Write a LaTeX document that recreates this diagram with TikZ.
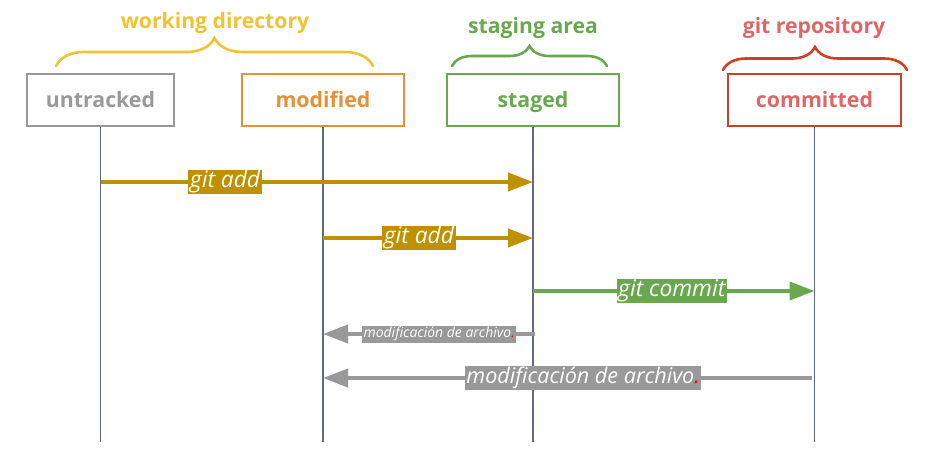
\documentclass[tikz,border=0pt]{standalone}
\usepackage{fontspec}
\setmainfont{Open Sans}
\usetikzlibrary{arrows.meta,decorations.pathreplacing}
\definecolor{wdyellow}{HTML}{F1C232}
\definecolor{trackgray}{HTML}{999999}
\definecolor{modorange}{HTML}{E69138}
\definecolor{stgreen}{HTML}{6AA84F}
\definecolor{repored}{HTML}{CC4125}
\definecolor{reposalmon}{HTML}{E06666}
\definecolor{addgold}{HTML}{BF9000}
\definecolor{lifeblue}{HTML}{5F6B80}
\begin{document}
\begin{tikzpicture}[x=1pt, y=-1pt,
                    line width=1pt,
                    >={Triangle[length=25pt,width=18pt]},
                    ]
    \tikzstyle{state}=[draw, line width=1.2pt, minimum height=52pt, inner sep=2pt, text height=16pt, text depth=2pt, font=\fontsize{21.3}{24}\selectfont\bfseries];
    \tikzstyle{area}=[anchor=base, font=\fontsize{21.2}{24}\selectfont\bfseries];
    \tikzstyle{areabrace}=[decorate, line width=2.6pt, line cap=round];
    \tikzstyle{lifeline}=[draw=lifeblue, line width=1.4pt];
    \tikzstyle{move}=[draw, line width=4pt, ->];
    \tikzstyle{movelabel}=[text=white, inner sep=1.5pt, text height=16.5pt, text depth=5pt, font=\fontsize{22.8}{26}\selectfont\itshape];
    \tikzstyle{backlabel}=[movelabel, fill=trackgray];

    \useasboundingbox (0,0) rectangle (938,452);

    % states
    \node[state, draw=trackgray, text=trackgray, minimum width=147pt] (untracked) at (100.5,100) {untracked};
    \node[state, draw=modorange, text=modorange, minimum width=162pt] (modified) at (323,100) {modified};
    \node[state, draw=stgreen, text=stgreen, minimum width=172pt] (staged) at (533,100) {staged};
    \node[state, draw=repored, text=reposalmon, minimum width=173pt] (committed) at (814.5,100) {committed};

    % areas
    \draw[areabrace, draw=wdyellow, decoration={brace, amplitude=28pt}] (56,66) -- (373,66);
    \node[area, text=wdyellow] (wdir) at (215,29) {working directory};
    \draw[areabrace, draw=stgreen, decoration={brace, amplitude=20pt}] (452,66) -- (607,66);
    \node[area, text=stgreen] (sarea) at (533,34) {staging area};
    \draw[areabrace, draw=repored, decoration={brace, amplitude=23pt}] (723,70) -- (907,70);
    \node[area, text=reposalmon] (grepo) at (814,34) {git repository};

    % lifelines
    \foreach \s in {untracked, modified, staged, committed}{
        \coordinate (\s-end) at (\s.south |- 0,442);
        \path[lifeline] (\s) -- (\s-end);
    }

    % points on the lifelines
    \coordinate (u1) at (untracked.south |- 0,182);
    \coordinate (s1) at (staged.south |- 0,182);
    \coordinate (m2) at (modified.south |- 0,238);
    \coordinate (s2) at (staged.south |- 0,238);
    \coordinate (s3) at (staged.south |- 0,291);
    \coordinate (c3) at (committed.south |- 0,291);
    \coordinate (s4) at (535,334);
    \coordinate (m4) at (modified.south |- 0,334);
    \coordinate (c5) at (812,378);
    \coordinate (m5) at (modified.south |- 0,378);

    % moves
    \path[move, draw=addgold] (u1) -- node[movelabel, fill=addgold, pos=0.288] (add1) {git add} (s1);
    \path[move, draw=addgold] (m2) -- node[movelabel, fill=addgold, pos=0.457] (add2) {git add} (s2);
    \path[move, draw=stgreen] (s3) -- node[movelabel, fill=stgreen, pos=0.493] (commit) {git commit} (c3);
    \path[move, draw=trackgray] (s4) -- node[backlabel, pos=0.452, text height=10.5pt, text depth=3.5pt, font=\fontsize{14}{16}\selectfont\itshape] (mod1) {modificación de archivo{\color{red}.}} (m4);
    \path[move, draw=trackgray] (c5) -- node[backlabel, pos=0.468, text height=16pt, text depth=5pt, font=\fontsize{21.6}{24}\selectfont\itshape] (mod2) {modificación de archivo{\color{red}.}} (m5);
\end{tikzpicture}
\end{document}
